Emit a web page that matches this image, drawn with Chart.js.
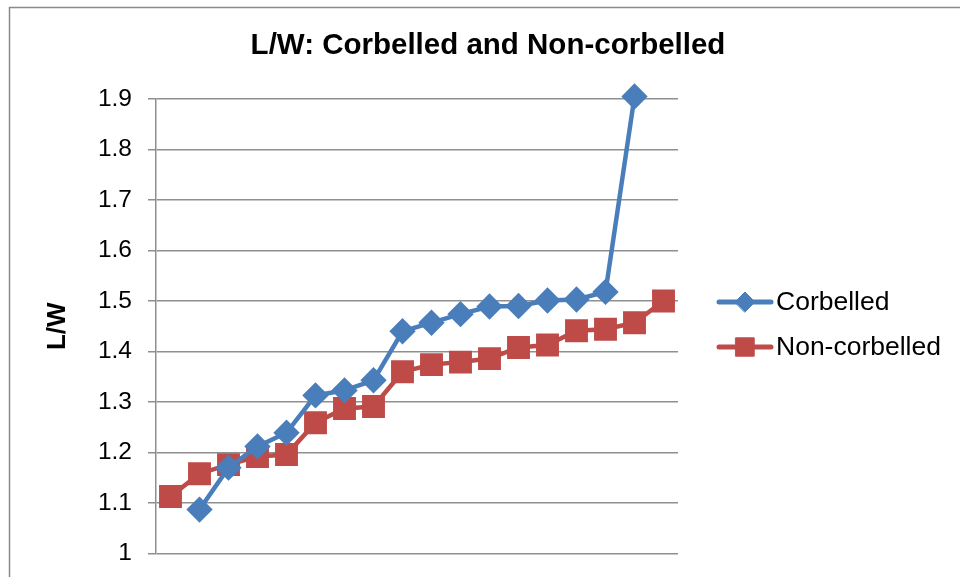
<!DOCTYPE html>
<html>
<head>
<meta charset="utf-8">
<script src="https://cdn.jsdelivr.net/npm/chart.js@4/dist/chart.umd.min.js"></script>
<style>
  html, body { margin: 0; padding: 0; background: #fff; }
  #wrap { position: relative; width: 960px; height: 577px; }
</style>
</head>
<body>
<div id="wrap"><canvas id="lwChart" width="960" height="577"></canvas></div>
<script>
// sample index (no axis labels shown in the original)
const samples = ['1', '2', '3', '4', '5', '6', '7', '8', '9', '10', '11', '12', '13', '14', '15', '16', '17', '18'];

// L/W ratios
const corbelled = [null, 1.087, 1.17, 1.212, 1.239, 1.313, 1.323, 1.343, 1.44, 1.457, 1.474, 1.489, 1.49, 1.501, 1.503, 1.518, 1.905, null];
const nonCorbelled = [1.113, 1.158, 1.176, 1.192, 1.196, 1.259, 1.287, 1.291, 1.36, 1.374, 1.379, 1.386, 1.408, 1.413, 1.441, 1.444, 1.457, 1.5];

const yTicks = { min: 1, max: 1.9, step: 0.1 };

const FONT = "'Liberation Sans', Arial, sans-serif";
const BLUE = '#4A7EBB';
const RED = '#BE4B48';
const GRID = '#8f8f8f';

// outer frame, title and legend, Excel style
const decorPlugin = {
  id: 'decor',
  beforeDraw(chart) {
    const ctx = chart.ctx;
    ctx.save();
    ctx.strokeStyle = '#8a8a8a';
    ctx.lineWidth = 1.5;
    ctx.beginPath();
    ctx.moveTo(9.5, 577);
    ctx.lineTo(9.5, 7.5);
    ctx.lineTo(960, 7.5);
    ctx.stroke();
    ctx.restore();
  },
  afterDraw(chart) {
    const ctx = chart.ctx;
    ctx.save();
    ctx.fillStyle = '#000';
    ctx.font = 'bold 29.5px ' + FONT;
    ctx.textAlign = 'center';
    ctx.textBaseline = 'middle';
    ctx.fillText('L/W: Corbelled and Non-corbelled', 488, 46);

    // legend
    const rows = [302, 347];
    chart.data.datasets.forEach((ds, i) => {
      const y = rows[i];
      ctx.strokeStyle = ds.borderColor;
      ctx.lineWidth = 5;
      ctx.lineCap = 'round';
      ctx.beginPath();
      ctx.moveTo(719, y);
      ctx.lineTo(771, y);
      ctx.stroke();
      ctx.fillStyle = ds.pointBackgroundColor;
      ctx.strokeStyle = ds.pointBackgroundColor;
      ctx.lineWidth = 1;
      Chart.helpers.drawPoint(ctx, {
        pointStyle: ds.pointStyle,
        radius: ds.pointRadius,
        borderWidth: 1,
        rotation: 0
      }, 745, y);
      ctx.fillStyle = '#000';
      ctx.font = '26.5px ' + FONT;
      ctx.textAlign = 'left';
      ctx.textBaseline = 'middle';
      ctx.fillText(ds.label, 776, y + 1);
    });
    ctx.restore();
  }
};

new Chart(document.getElementById('lwChart').getContext('2d'), {
  type: 'line',
  data: {
    labels: samples,
    datasets: [
      {
        label: 'Corbelled',
        data: corbelled,
        borderColor: BLUE,
        backgroundColor: BLUE,
        pointBackgroundColor: BLUE,
        pointBorderColor: BLUE,
        pointStyle: 'rectRot',
        pointRadius: 10,
        borderWidth: 4.5,
        tension: 0,
        clip: false
      },
      {
        label: 'Non-corbelled',
        data: nonCorbelled,
        borderColor: RED,
        backgroundColor: RED,
        pointBackgroundColor: RED,
        pointBorderColor: RED,
        pointStyle: 'rect',
        pointRadius: 13,
        borderWidth: 4.5,
        tension: 0,
        clip: false
      }
    ]
  },
  options: {
    responsive: false,
    animation: false,
    events: [],
    layout: { padding: { left: 42, top: 99, right: 282, bottom: 23.5 } },
    plugins: {
      legend: { display: false },
      title: { display: false },
      tooltip: { enabled: false }
    },
    scales: {
      x: {
        display: false,
        offset: true
      },
      y: {
        min: yTicks.min,
        max: yTicks.max,
        afterFit(scale) {
          scale.width = 114;
          // let the layout padding alone decide the plot edges
          scale.paddingTop = 0;
          scale.paddingBottom = 0;
        },
        ticks: {
          stepSize: yTicks.step,
          padding: 16,
          color: '#000',
          font: { family: FONT, size: 24.5 },
          callback: v => String(+v.toFixed(1))
        },
        grid: { color: GRID, lineWidth: 1.5, tickLength: 8 },
        border: { color: GRID, width: 1.5 },
        title: {
          display: true,
          text: 'L/W',
          color: '#000',
          font: { family: FONT, size: 26, weight: 'bold' },
          padding: 0
        }
      }
    }
  },
  plugins: [decorPlugin]
});
</script>
</body>
</html>
